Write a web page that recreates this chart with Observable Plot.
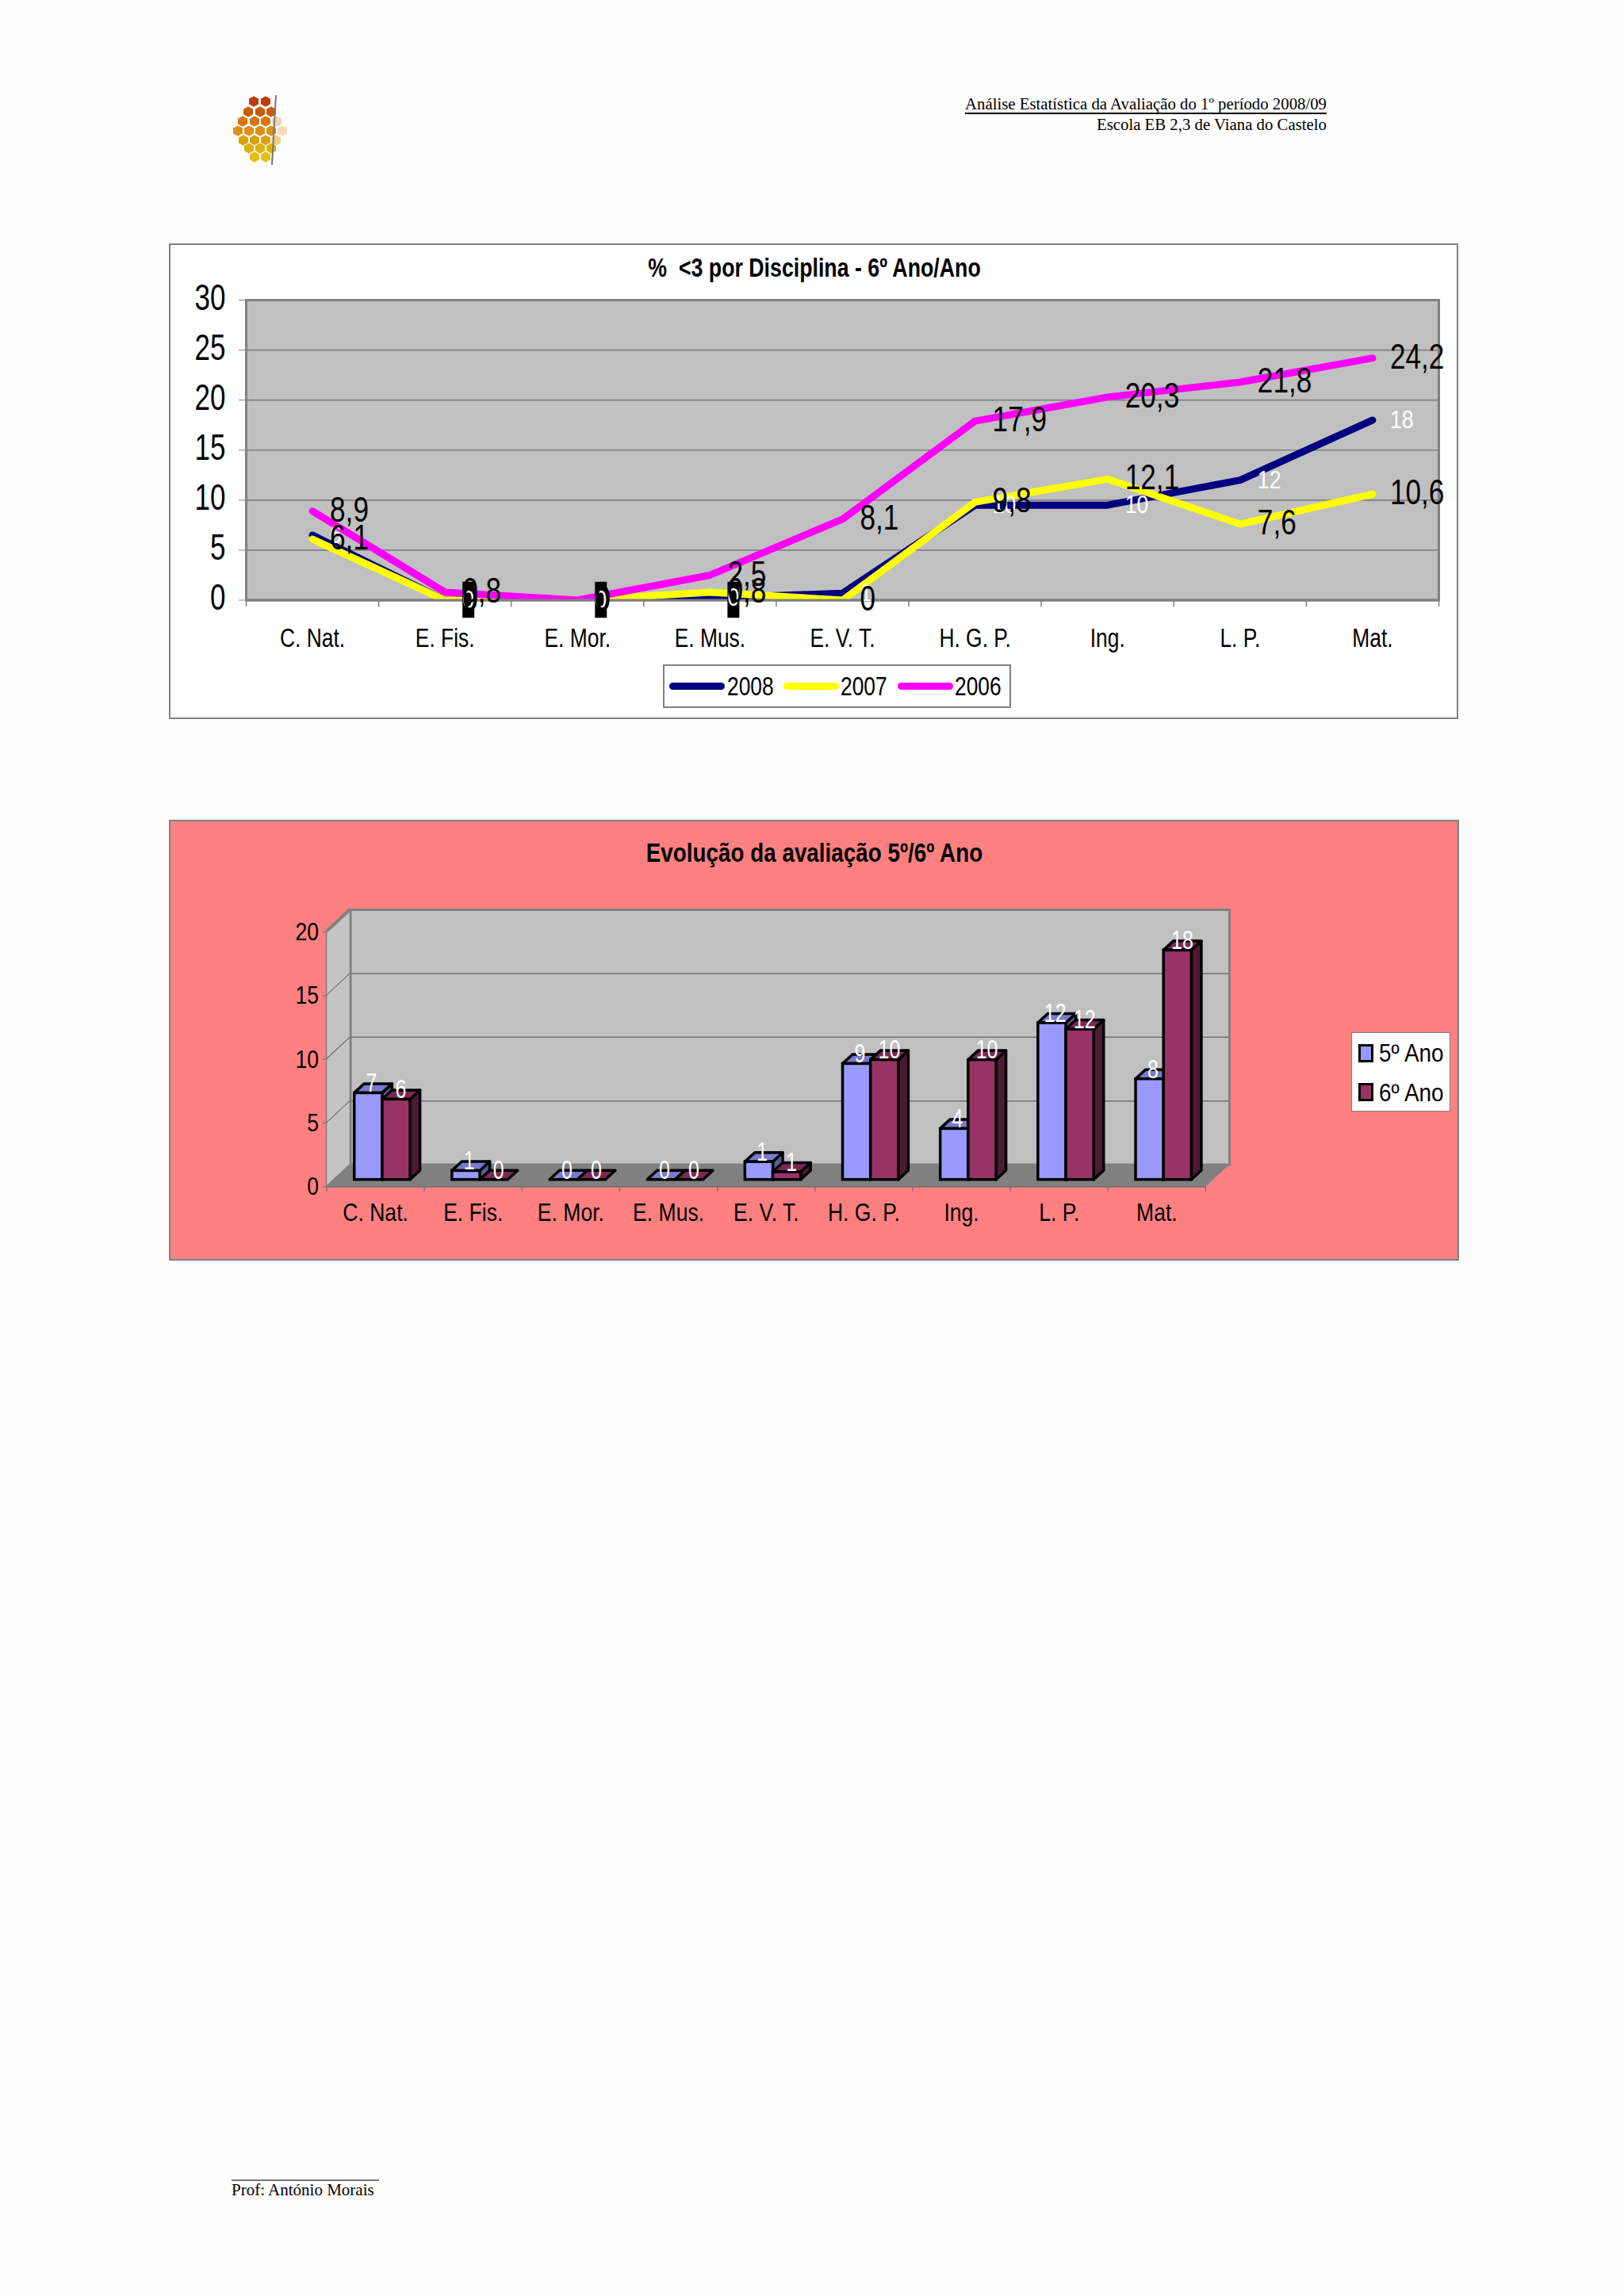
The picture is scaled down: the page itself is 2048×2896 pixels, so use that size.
<!DOCTYPE html>
<html lang="pt"><head><meta charset="utf-8">
<script src="https://cdn.jsdelivr.net/npm/d3@7"></script>
<script src="https://cdn.jsdelivr.net/npm/@observablehq/plot@0.6"></script>
<style>
html,body{margin:0;padding:0;background:#fefefe}
body{width:2048px;height:2896px;position:relative;overflow:hidden;font-family:"Liberation Sans",sans-serif;color:#000}
.abs{position:absolute;white-space:pre;line-height:1}
.serif{font-family:"Liberation Serif",serif}
.title{font-weight:bold;font-size:33px}
.legend{background:#fff;border:2px solid #808080;box-sizing:border-box}
.sw{position:absolute;height:9px;border-radius:4.5px}
.sq{position:absolute;width:19px;height:23px;border:3.5px solid #000;box-sizing:border-box}
.n80{transform:scaleX(.8);transform-origin:left center}
.n90{transform:scaleX(.9);transform-origin:left center}
</style></head><body>
<script>
const disciplinas = ["C. Nat.","E. Fis.","E. Mor.","E. Mus.","E. V. T.","H. G. P.","Ing.","L. P.","Mat."];
const s2008 = [6.5,0,0,0.2,0.7,9.5,9.5,12,18];
const s2007 = [6.1,0,0,0.8,0,9.8,12.1,7.6,10.6];
const s2006 = [8.9,0.8,0,2.5,8.1,17.9,20.3,21.8,24.2];
const labels2008 = ["6","0","0","0","1","10","10","12","18"];
const labels2007 = ["6,1","0","0","0,8","0","9,8","12,1","7,6","10,6"];
const labels2006 = ["8,9","0,8","0","2,5","8,1","17,9","20,3","21,8","24,2"];
const ano5 = [6.8,0.7,0,0,1.4,9.1,4,12.3,7.9];
const ano6 = [6.3,0,0,0,0.6,9.4,9.4,11.8,18];
const labelsAno5 = ["7","1","0","0","1","9","4","12","8"];
const labelsAno6 = ["6","0","0","0","1","10","10","12","18"];

const FONT = '"Liberation Sans",sans-serif';
const rows = (vals, labs, serie) => disciplinas.map((d,i)=>({d, v:vals[i], t:labs[i], serie}));
const r08 = rows(s2008,labels2008,"2008"), r07 = rows(s2007,labels2007,"2007"), r06 = rows(s2006,labels2006,"2006");

function add(html){const e=document.createElement("div");e.innerHTML=html;while(e.firstChild)document.body.appendChild(e.firstChild);}
/* the reference's type is condensed: squeeze each text horizontally around its anchor */
function narrow(svg,map,shift={}){
  svg.querySelectorAll("text").forEach(t=>{
    const host=t.closest("[font-size]");
    const fs=host?+host.getAttribute("font-size"):0;
    const k=map[fs]||.8;
    t.setAttribute("transform",(t.getAttribute("transform")||"")+` translate(0,${shift[fs]||0}) scale(${k},1)`);
  });
}

/* ---------- chart 1 ---------- */
const b1 = (1814-310)/9;
const lineOpts = {x:"d",y:"v",strokeWidth:9,curve:"linear",strokeLinejoin:"round",strokeLinecap:"round",clip:"frame"};
const chart1 = Plot.plot({
  width:1624, height:598, marginTop:70, marginBottom:149.5, marginLeft:96, marginRight:24,
  style:{position:"absolute",left:"214px",top:"308px",background:"#fff",outline:"2px solid #808080",outlineOffset:"-1px",overflow:"visible",fontFamily:FONT,maxWidth:"none"},
  x:{type:"band",domain:disciplinas,padding:0,round:false,axis:null},
  y:{domain:[0,30],axis:null},
  marks:[
    Plot.frame({fill:"#c0c0c0",stroke:"#808080",strokeWidth:3}),
    Plot.ruleY([5,10,15,20,25],{stroke:"#808080",strokeWidth:1.6}),
    Plot.line(r08,{...lineOpts,stroke:"#000080"}),
    Plot.line(r07,{...lineOpts,stroke:"#ffff00"}),
    Plot.line(r06,{...lineOpts,stroke:"#ff00ff"}),
    Plot.ruleY([0],{stroke:"#808080",strokeWidth:3}),
    Plot.ruleX(disciplinas,{x:d=>d,y1:0,y2:-0.7,dx:-b1/2,stroke:"#808080",strokeWidth:1.5}),
    Plot.ruleX(disciplinas.slice(-1),{x:d=>d,y1:0,y2:-0.7,dx:b1/2,stroke:"#808080",strokeWidth:1.5}),
    Plot.axisY({ticks:[0,5,10,15,20,25,30],tickSize:9,tickPadding:17,fontSize:46,stroke:"#808080",fill:"#000",label:null,tickFormat:d=>String(d)}),
    Plot.axisX({anchor:"bottom",tickSize:0,tickPadding:36,fontSize:33,label:null,fill:"#000"}),
    Plot.ruleX(r08.filter(d=>d.t==="0"),{x:"d",y1:-1.8,y2:1.8,dx:29.5,stroke:"#000",strokeWidth:15}),
    Plot.text(r08,{x:"d",y:"v",text:"t",dx:22,textAnchor:"start",fontSize:31,fill:"#fff"}),
    Plot.text(r07,{x:"d",y:"v",text:"t",dx:22,textAnchor:"start",fontSize:44,fill:"#000"}),
    Plot.text(r06,{x:"d",y:"v",text:"t",dx:22,textAnchor:"start",fontSize:44,fill:"#000"})
  ]
});
narrow(chart1,{46:.76,33:.8,44:.8,31:.86},{46:-2.5,44:-1});
document.body.appendChild(chart1);

/* ---------- chart 2 ---------- */
const ML=197.5, MR=319.5, MT=140, MB=92.5, WD=1625.5, HT=554;
const b2=(WD-ML-MR)/9, barW=35.2, inL=35.2, depthX=30, depthY=-28, fl=-8.8, bdx=12.5, bdy=11.5;
const a5 = rows(ano5,labelsAno5,"5º Ano"), a6 = rows(ano6,labelsAno6,"6º Ano");

function poly(g,pts,fill,stroke,sw){
  g.append("polygon").attr("points",pts.map(p=>p.join(",")).join(" "))
   .attr("fill",fill).attr("stroke",stroke).attr("stroke-width",sw).attr("stroke-linejoin","round");
}
const walls = (index,{x,y})=>{
  const g=d3.create("svg:g");
  const x0=ML,x1=WD-MR,y0=y(0),y1=y(20);
  poly(g,[[x0,y1],[x0+depthX,y1+depthY],[x0+depthX,y0+depthY],[x0,y0]],"#c4c4c4","#808080",1.5);
  poly(g,[[x0,y0],[x0+depthX,y0+depthY],[x1+depthX,y0+depthY],[x1,y0]],"#808080","#808080",1);
  [5,10,15].forEach(v=>poly(g,[[x0,y(v)],[x0+depthX,y(v)+depthY]],"none","#707070",1.2));
  g.append("path").attr("d",`M${x0},${y1}L${x0+depthX},${y1+depthY}`).attr("stroke","#808080").attr("stroke-width",4).attr("fill","none");
  return g.node();
};
const faces = (data,slot,top,side)=>(index,{x,y})=>{
  const g=d3.create("svg:g");
  data.forEach(r=>{
    const l=x(r.d)+inL+slot*barW, R=l+barW, t=y(r.v)+fl, b=y(0)+fl;
    if(r.v>0) poly(g,[[R,t],[R+bdx,t-bdy],[R+bdx,b-bdy],[R,b]],side,"#000",3.5);
    poly(g,[[l,t],[R,t],[R+bdx,t-bdy],[l+bdx,t-bdy]],top,"#000",3.5);
  });
  return g.node();
};
const chart2 = Plot.plot({
  width:WD, height:HT, marginTop:MT, marginBottom:MB, marginLeft:ML, marginRight:MR,
  style:{position:"absolute",left:"213.5px",top:"1035px",background:"#ff8080",outline:"2px solid #808080",outlineOffset:"-1px",overflow:"visible",fontFamily:FONT,maxWidth:"none"},
  x:{type:"band",domain:disciplinas,padding:0,round:false,axis:null},
  y:{domain:[0,20],axis:null},
  marks:[
    Plot.frame({fill:"#c0c0c0",stroke:"#808080",strokeWidth:3,dx:depthX,dy:depthY}),
    Plot.ruleY([5,10,15],{dx:depthX,dy:depthY,stroke:"#707070",strokeWidth:1.5}),
    walls,
    Plot.ruleY([0],{stroke:"#707070",strokeWidth:1.5}),
    Plot.ruleX(disciplinas,{x:d=>d,y1:0,y2:-0.4,dx:-b2/2,stroke:"#707070",strokeWidth:1.2}),
    Plot.ruleX(disciplinas.slice(-1),{x:d=>d,y1:0,y2:-0.4,dx:b2/2,stroke:"#707070",strokeWidth:1.2}),
    Plot.axisY({ticks:[0,5,10,15,20],tickSize:5,tickPadding:5,fontSize:32,stroke:"#707070",fill:"#000",label:null,tickFormat:d=>String(d)}),
    Plot.axisX({anchor:"bottom",tickSize:0,tickPadding:20,fontSize:32,label:null,fill:"#000"}),
    faces(a5,0,"#7a7acc","#5c5c99"),
    Plot.barY(a5,{x:"d",y:"v",insetLeft:inL,insetRight:b2-inL-barW,dy:fl,fill:"#9999ff",stroke:"#000",strokeWidth:3.5}),
    faces(a6,1,"#7a2952","#4d1a33"),
    Plot.barY(a6,{x:"d",y:"v",insetLeft:inL+barW,insetRight:b2-inL-2*barW,dy:fl,fill:"#993366",stroke:"#000",strokeWidth:3.5}),
    Plot.text(a5,{x:"d",y:"v",text:"t",dx:-5,dy:-21,fontSize:33,fill:"#fff"}),
    Plot.text(a6,{x:"d",y:"v",text:"t",dx:32,dy:-21,fontSize:33,fill:"#fff"})
  ]
});
narrow(chart2,{32:.83,33:.76});
document.body.appendChild(chart2);

/* ---------- titles, legends, page text ---------- */
add(`
<div class="abs title" style="left:1027px;top:337px;transform:translate(-50%,-50%) scaleX(.81)">%  &lt;3 por Disciplina - 6º Ano/Ano</div>
<div class="abs title" style="left:1027px;top:1075px;transform:translate(-50%,-50%) scaleX(.843)">Evolução da avaliação 5º/6º Ano</div>

<div class="abs legend" style="left:836px;top:838px;width:439px;height:55px">
  <div class="sw" style="left:6px;top:21px;width:70px;background:#000080"></div>
  <div class="abs n80" style="left:79px;top:9px;font-size:33px">2008</div>
  <div class="sw" style="left:150px;top:21px;width:70px;background:#ffff00"></div>
  <div class="abs n80" style="left:222px;top:9px;font-size:33px">2007</div>
  <div class="sw" style="left:294px;top:21px;width:70px;background:#ff00ff"></div>
  <div class="abs n80" style="left:366px;top:9px;font-size:33px">2006</div>
</div>

<div class="abs legend" style="left:1704px;top:1302px;width:125px;height:100px;border-width:1px">
  <div class="sq" style="left:8px;top:14px;background:#9999ff"></div>
  <div class="abs n90" style="left:34px;top:10px;font-size:31px">5º Ano</div>
  <div class="sq" style="left:8px;top:63px;background:#993366"></div>
  <div class="abs n90" style="left:34px;top:60px;font-size:31px">6º Ano</div>
</div>

<div class="abs serif" style="right:375px;top:121px;font-size:20.8px;border-bottom:2px solid #000">Análise Estatística da Avaliação do 1º período 2008/09</div>
<div class="abs serif" style="right:375px;top:147px;font-size:20.8px">Escola EB 2,3 de Viana do Castelo</div>

<div class="abs" style="left:292px;top:2749px;width:186px;height:2px;background:#777"></div>
<div class="abs serif" style="left:292px;top:2752px;font-size:21px">Prof: António Morais</div>
`);

/* ---------- logo ---------- */
const logoRows=[[320,335],[313,328,342],[306,321,335,349],[300,314,328,342,356],[307,321,335,348],[314,328,342],[321,335]];
const logoCols=["#c23a08","#cc5a08","#d4760e","#dd8f18","#dba010","#deb212","#e2c015"];
const logoY=[128,141,153,165,177,187,198];
const logo=d3.create("svg").attr("width",2048).attr("height",260)
  .style("position","absolute").style("left","0").style("top","0");
logoRows.forEach((row,r)=>row.forEach(cx=>{
  const cy=logoY[r], w=6.5, h=7.2;
  const faded = cx>=348 ? (r===4?0.5:0.3) : 1;
  logo.append("polygon").attr("points",[[cx,cy-h],[cx+w,cy-h/2],[cx+w,cy+h/2],[cx,cy+h],[cx-w,cy+h/2],[cx-w,cy-h/2]].join(" "))
    .attr("fill",logoCols[r]).attr("opacity",faded).attr("stroke","#fff").attr("stroke-width",1);
}));
logo.append("line").attr("x1",348).attr("x2",343).attr("y1",120).attr("y2",208).attr("stroke","#777").attr("stroke-width",2);
document.body.appendChild(logo.node());
</script>
</body></html>
